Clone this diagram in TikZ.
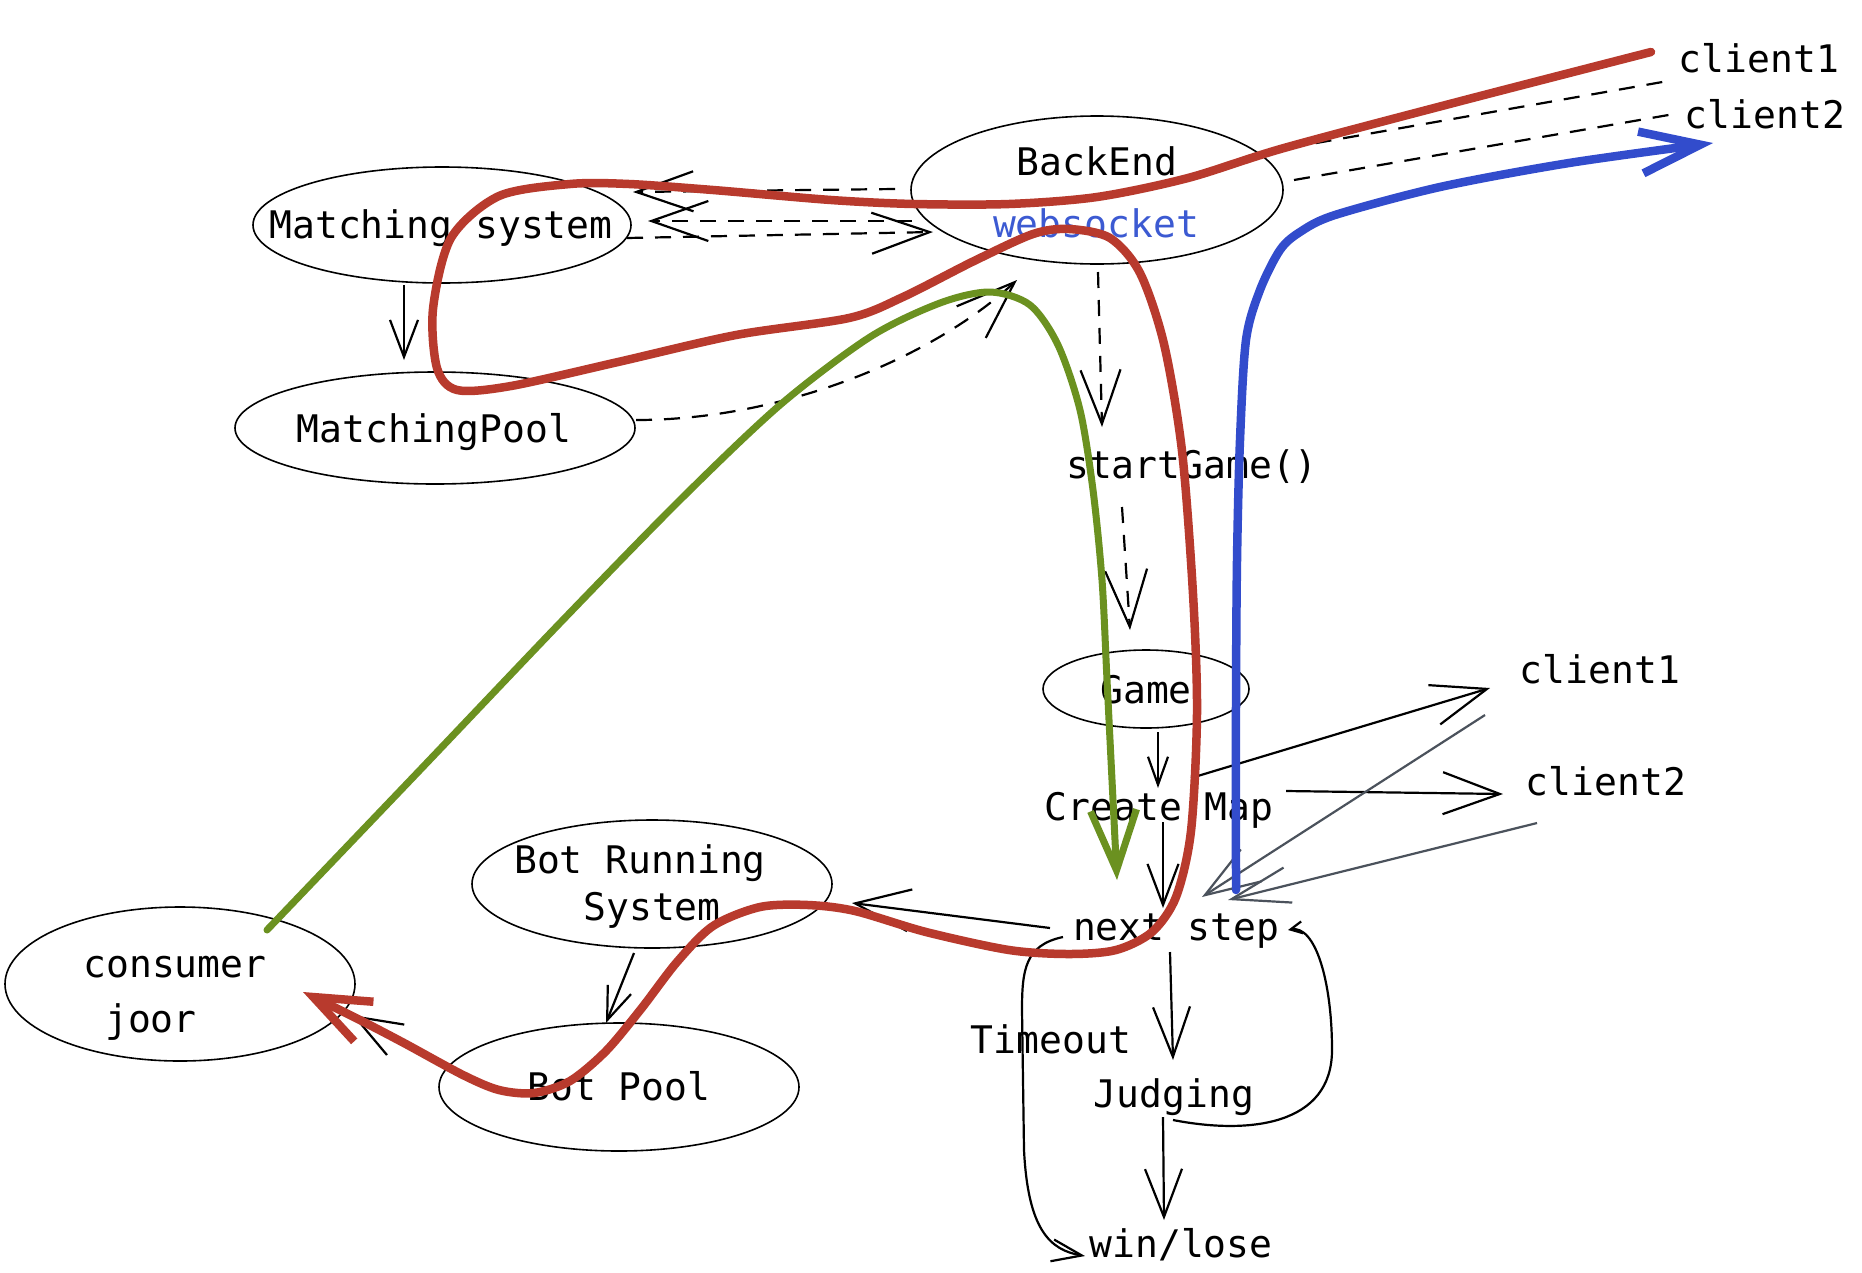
\documentclass[tikz,border=0pt]{standalone}
\usepackage{fontspec}
\newfontfamily\dmono{DejaVu Sans Mono}
\usetikzlibrary{arrows.meta,shapes.geometric,calc}
\definecolor{flowred}{HTML}{B83A2D}
\definecolor{flowgreen}{HTML}{6B9120}
\definecolor{flowblue}{HTML}{324CCC}
\definecolor{wsblue}{HTML}{3C5AD2}
\definecolor{slate}{HTML}{4B525C}
\begin{document}
\begin{tikzpicture}[x=1pt,y=-1pt,
  lbl/.style={font=\dmono\fontsize{38}{46}\selectfont, anchor=base, inner sep=0pt},
  ell/.style={draw, ellipse, line width=1.6pt, inner sep=0pt},
  thinline/.style={line width=2.2pt, draw=black},
  dsh/.style={dash pattern=on 16pt off 12pt},
  vhead/.style 2 args={-{Straight Barb[length=#1pt,width=#2pt]}},
  flow/.style={line cap=round, line join=round}]
\useasboundingbox[fill=white] (0,0) rectangle (1862,1272);

% ellipses
\node[ell, minimum width=378pt, minimum height=116pt] (ms) at (442,225) {};
\node[ell, minimum width=400pt, minimum height=112pt] (mp) at (435,428) {};
\node[ell, minimum width=372pt, minimum height=148pt] (be) at (1097,190) {};
\node[ell, minimum width=206pt, minimum height=78pt] (game) at (1146,689) {};
\node[ell, minimum width=360pt, minimum height=128pt] (br) at (652,884) {};
\node[ell, minimum width=350pt, minimum height=154pt] (cj) at (180,984) {};
\node[ell, minimum width=360pt, minimum height=128pt] (bp) at (619,1087) {};

% texts
\node[lbl] (msT) at (441,238) {Matching system};
\node[lbl] (mpT) at (434,442) {MatchingPool};
\node[lbl] (beT) at (1097,175) {BackEnd};
\node[lbl, text=wsblue] (wsT) at (1096,237) {websocket};
\node[lbl] (c1a) at (1759,72) {client1};
\node[lbl] (c2a) at (1765,128) {client2};
\node[lbl] (sg) at (1192,478) {startGame()};
\node[lbl] (gameT) at (1146,703) {Game};
\node[lbl] (cm) at (1159,820) {Create Map};
\node[lbl] (c1) at (1600,683) {client1};
\node[lbl] (c2) at (1606,795) {client2};
\node[lbl] (ns) at (1176,940) {next step};
\node[lbl] (tmo) at (1051,1053) {Timeout};
\node[lbl] (jd) at (1174,1107) {Judging};
\node[lbl] (wl) at (1181,1257) {win/lose};
\node[lbl] (brT1) at (640,873) {Bot Running};
\node[lbl] (brT2) at (652,920) {System};
\node[lbl] (cjT1) at (175,977) {consumer};
\node[lbl] (cjT2) at (151,1032) {joor};
\node[lbl] (bpT) at (619,1100) {Bot Pool};

% connectors
\draw[thinline, vhead={37}{28}] ($(ms)+(-38,60)$) -- ($(mp)+(-31,-68)$);
\draw[thinline, dsh, vhead={57}{40}] ($(be)+(-202,-1)$) -- ($(ms)+(191,-33)$);
\draw[thinline, dsh, vhead={57}{40}] ($(be)+(-185,31)$) -- ($(ms)+(206,-4)$);
\draw[thinline, dsh, vhead={58}{41}] ($(ms)+(185,13)$) -- ($(be)+(-164,42)$);
\draw[thinline, dsh, vhead={59}{43}] ($(mp)+(201,-8)$) .. controls +(144,0) and +(-87,80) .. ($(be)+(-80,90)$);
\draw[thinline, dsh, vhead={54}{40}] ($(be)+(1,82)$) -- ($(sg.base)+(-90,-51)$);
\draw[thinline, dsh, vhead={57}{42}] ($(sg.base)+(-70,29)$) -- ($(game)+(-16,-59)$);
\draw[thinline, vhead={28}{20}] ($(game)+(12,43)$) -- ($(cm.base)+(-1,-32)$);
\draw[thinline, vhead={41}{31}] ($(cm.base)+(4,2)$) -- ($(ns.base)+(-13,-32)$);
\draw[thinline, vhead={55}{41}] ($(cm.base)+(32,-42)$) -- ($(c1.base)+(-110,5)$);
\draw[thinline, vhead={57}{42}] ($(cm.base)+(127,-29)$) -- ($(c2.base)+(-103,-1)$);
\draw[thinline, draw=slate, vhead={55}{38}] ($(c1.base)+(-115,32)$) -- ($(ns.base)+(26,-43)$);
\draw[thinline, draw=slate, vhead={58}{36}] ($(c2.base)+(-69,28)$) -- ($(ns.base)+(52,-40)$);
\draw[thinline, vhead={55}{42}] ($(ns.base)+(-126,-12)$) -- ($(br)+(200,19)$);
\draw[thinline, vhead={47}{35}] ($(bp)+(-179,-22)$) -- ($(cj)+(172,31)$);
\draw[thinline, vhead={33}{25}] ($(br)+(-18,69)$) -- ($(bp)+(-13,-64)$);
\draw[thinline, vhead={50}{37}] ($(ns.base)+(-6,12)$) -- ($(jd.base)+(-1,-47)$);
\draw[thinline, vhead={48}{37}] ($(jd.base)+(-11,10)$) -- ($(wl.base)+(-17,-37)$);
\draw[thinline, vhead={30}{22}] ($(ns.base)+(-113,-3)$) .. controls +(-38,8) and +(0,-40) .. ($(ns.base)+(-154,70)$)
   -- ($(wl.base)+(-157,-107)$) .. controls +(4,80) and +(-35,-6) .. ($(wl.base)+(-96,-1)$);
\draw[thinline, vhead={12}{12}] ($(jd.base)+(-1,13)$) .. controls +(77,15) and +(0,75) .. ($(jd.base)+(158,-57)$)
   .. controls +(0,-70) and +(27,-5) .. ($(ns.base)+(112,-10)$);
\draw[thinline, dsh] ($(be)+(191,-42)$) -- ($(c1a.base)+(-91,9)$);
\draw[thinline, dsh] ($(be)+(197,-10)$) -- ($(c2a.base)+(-85,-15)$);

% flow strokes
\draw[flow, draw=flowgreen, line width=7pt, vhead={60}{46}] plot[smooth, tension=0.5] coordinates {
 (267,930) (420,770) (560,623) (680,500) (780,405) (870,337) (940,303) (990,292)
 (1030,305) (1058,345) (1080,410) (1093,490) (1102,580) (1107,680) (1112,780) (1117,880)};
\draw[flow, draw=flowblue, line width=8.5pt, vhead={60}{42}] plot[smooth, tension=0.5] coordinates {
 (1236,890) (1236,700) (1237,560) (1240,440) (1246,340) (1260,290) (1280,250) (1300,232)
 (1335,215) (1440,187) (1569,163) (1713,143)};
\draw[flow, draw=flowred, line width=8.5pt, vhead={56}{44}] plot[smooth, tension=0.5] coordinates {
 (1651,52) (1461,101) (1284,148) (1188,178) (1097,197) (1009,204) (914,204) (831,200) (713,190)
 (629,184) (570,184) (499,196) (451,238) (433,309) (437,368) (457,390) (511,386) (618,362)
 (736,335) (849,318) (903,297) (974,261) (1033,234) (1069,229) (1110,238) (1140,273) (1164,344)
 (1182,451) (1193,594) (1197,713) (1191,831) (1176,897) (1152,932) (1116,950) (1069,954)
 (1009,950) (926,932) (855,911) (808,905) (760,907) (713,926) (677,962) (641,1009) (606,1051)
 (570,1081) (534,1093) (499,1090) (463,1075) (404,1043) (356,1018) (303,992)};
\end{tikzpicture}
\end{document}
